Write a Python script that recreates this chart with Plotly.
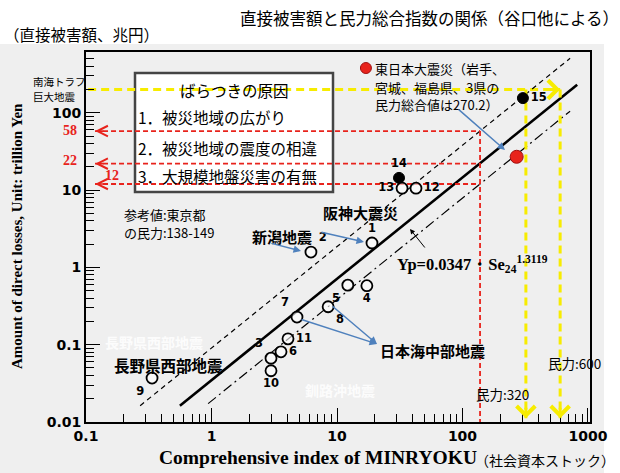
import numpy as np
import plotly.graph_objects as go

# ---------------- data ----------------
event_ids = ["1", "2", "3", "4", "5", "6", "7", "8", "9", "10", "11", "12", "13", "14", "15"]
minryoku = [19.0, 6.2, 2.98, 17.3, 12.2, 3.58, 4.8, 8.5, 0.336, 2.98, 4.07, 42.6, 33.0, 31.2, 303]
losses = [2.07, 1.58, 0.067, 0.58, 0.59, 0.081, 0.228, 0.31, 0.037, 0.046, 0.119, 10.6, 10.6, 14.4, 155]
filled_events = ["14", "15"]

# East Japan (Tohoku) earthquake point
tohoku_minryoku = 270.2
tohoku_loss = 27.0

# regression  Yp = 0.0347 * Se^1.3119  and the two bounding lines
fit_a = 0.0347
fit_b = 1.3119
band_upper = 2.61
band_lower = 0.54
center_x = [0.56, 820]
upper_x = [0.27, 720]
lower_x = [0.94, 720]

# Tokyo reference (red dashed)
tokyo_minryoku = 138
tokyo_levels = [58, 22, 12]
red_x_start = 0.118

# Nankai trough (yellow dashed)
nankai_loss = 200
nankai_minryoku = [320, 600]
yellow_x_start = 0.104
axis_floor = 0.0112

x_tickvals = [0.1, 1, 10, 100, 1000]
x_ticktext = ["0.1", "1", "10", "100", "1000"]
y_tickvals = [0.01, 0.1, 1, 10, 100]
y_ticktext = ["0.01", "0.1", "1", "10", "100"]

# ---------------- styling / layout helpers ----------------
L, R, T, B = 86, 30, 52, 51
W, H = 620, 473
PW, PH = W - L - R, H - T - B


def P(px):
    return (px - L) / PW


def Q(py):
    return (H - B - py) / PH


JP = "Noto Sans CJK JP"
SERIF = "Liberation Serif"
SANS = "DejaVu Sans"
RED = "#e8231c"
YEL = "#f7ec00"
BLUE = "#4f81bd"

label_pos = ["top center", "top right", "top left", "bottom center", "bottom left",
             "middle right", "top left", "bottom right", "bottom left", "bottom center",
             "middle right", "middle right", "middle left", "top center", "middle right"]

fig = go.Figure()

# regression lines
def fit(x, k=1.0):
    return [k * fit_a * v ** fit_b for v in x]

fig.add_trace(go.Scatter(x=upper_x, y=fit(upper_x, band_upper), mode="lines",
                         line=dict(color="black", width=1.2, dash="5px,4px")))
fig.add_trace(go.Scatter(x=center_x, y=fit(center_x), mode="lines",
                         line=dict(color="black", width=2.6)))
fig.add_trace(go.Scatter(x=lower_x, y=fit(lower_x, band_lower), mode="lines",
                         line=dict(color="black", width=1.2, dash="10px,4px,2px,4px")))

# yellow dashed vertical lines
for xv in nankai_minryoku:
    fig.add_trace(go.Scatter(x=[xv, xv], y=[nankai_loss, axis_floor], mode="lines",
                             line=dict(color=YEL, width=3, dash="8px,5px")))

# red dashed lines
for lv in tokyo_levels:
    fig.add_trace(go.Scatter(x=[red_x_start, tokyo_minryoku], y=[lv, lv], mode="lines",
                             line=dict(color=RED, width=1.8, dash="5px,3px")))
fig.add_trace(go.Scatter(x=[tokyo_minryoku, tokyo_minryoku], y=[max(tokyo_levels), 0.01],
                         mode="lines", line=dict(color=RED, width=1.8, dash="5px,3px")))

# circles
open_idx = [i for i, e in enumerate(event_ids) if e not in filled_events]
fill_idx = [i for i, e in enumerate(event_ids) if e in filled_events]
numfont = dict(family=SANS, size=11.5, color="black", weight="bold")
fig.add_trace(go.Scatter(
    x=[minryoku[i] for i in fill_idx], y=[losses[i] for i in fill_idx],
    mode="markers+text", text=[event_ids[i] for i in fill_idx],
    textposition=[label_pos[i] for i in fill_idx], textfont=numfont,
    marker=dict(size=11, color="black", line=dict(color="black", width=1)), cliponaxis=False))
fig.add_trace(go.Scatter(
    x=[minryoku[i] for i in open_idx], y=[losses[i] for i in open_idx],
    mode="markers+text", text=[event_ids[i] for i in open_idx],
    textposition=[label_pos[i] for i in open_idx], textfont=numfont,
    marker=dict(size=11, color="rgba(255,255,255,0.6)", line=dict(color="black", width=1.8)),
    cliponaxis=False))

# Tohoku red point and legend dot
fig.add_trace(go.Scatter(x=[tohoku_minryoku], y=[tohoku_loss], mode="markers",
                         marker=dict(size=13, color=RED, line=dict(color="#a01010", width=1))))
fig.add_trace(go.Scatter(x=[17.0], y=[380], mode="markers", cliponaxis=False,
                         marker=dict(size=11, color=RED, line=dict(color="#a01010", width=1))))

shapes = [
    # scanned-paper background
    dict(type="rect", xref="paper", yref="paper", x0=P(0), x1=P(604), y0=Q(473), y1=Q(44),
         fillcolor="#efefef", line=dict(width=0), layer="below"),
    # yellow horizontal (behind the box)
    dict(type="line", xref="x", yref="y", x0=yellow_x_start, x1=max(nankai_minryoku),
         y0=nankai_loss, y1=nankai_loss, line=dict(color=YEL, width=3, dash="8px,5px"),
         layer="below"),
    # explanation box
    dict(type="rect", xref="paper", yref="paper", x0=P(135), x1=P(333), y0=Q(192), y1=Q(73),
         fillcolor="white", line=dict(color="#454545", width=2.5), layer="below"),
]

ann = []


def txt(text, px, py, size=13, color="black", family=JP, weight="normal",
        xanchor="left", angle=0):
    ann.append(dict(text=text, x=P(px), y=Q(py), xref="paper", yref="paper",
                    xanchor=xanchor, yanchor="middle", showarrow=False, textangle=angle,
                    font=dict(family=family, size=size, color=color, weight=weight)))


def arrow(x0, y0, x1, y1, color=BLUE, width=1.5, head=2, size=1.0):
    ann.append(dict(text="", x=P(x1), y=Q(y1), xref="paper", yref="paper",
                    ax=x0 - x1, ay=y0 - y1, showarrow=True, arrowhead=head,
                    arrowsize=size, arrowwidth=width, arrowcolor=color))


# titles
txt("直接被害額と民力総合指数の関係（谷口他による）", 621, 18, size=16.5, xanchor="right")
txt("（直接被害額、兆円）", 2, 34, size=15.5)
txt("Amount of direct losses, Unit: trillion Yen", 17, 236, size=15, family=SERIF,
    weight="bold", xanchor="center", angle=-90)
txt("Comprehensive index of MINRYOKU", 318, 458, size=19.5, family=SERIF, weight="bold",
    xanchor="center")
txt("（社会資本ストック）", 617, 460, size=14, xanchor="right")

# box text
txt("ばらつきの原因", 234, 90, size=15.5, xanchor="center")
txt("1．被災地域の広がり", 136, 117, size=15.5)
txt("2．被災地域の震度の相違", 136, 148, size=15.5)
txt("3．大規模地盤災害の有無", 136, 176, size=15.5)

# Nankai label
txt("南海トラフ", 31, 81, size=10.5)
txt("巨大地震", 31, 96, size=10.5)

# red numbers
txt("58", 70, 130, size=14, color=RED, family=SERIF, weight="bold", xanchor="center")
txt("22", 70, 160, size=14, color=RED, family=SERIF, weight="bold", xanchor="center")
txt("12", 112, 175, size=14, color=RED, family=SERIF, weight="bold", xanchor="center")

# Tohoku text
txt("東日本大震災（岩手、", 373, 69, size=13)
txt("宮城、福島県、3県の", 373, 87, size=13)
txt("民力総合値は270.2）", 373, 104, size=13)
arrow(457, 108, 505, 150)

# reference text
txt("参考値:東京都", 122, 214, size=13)
txt("の民力:138-149", 122, 232, size=13)

# event names
txt("阪神大震災", 321, 212, size=15, weight="bold")
arrow(320, 232, 364, 242)
txt("新潟地震", 250, 236, size=15, weight="bold")
arrow(270, 243, 301, 251)
txt("日本海中部地震", 378, 350, size=15, weight="bold")
arrow(300, 319, 377, 344)
arrow(331, 305, 377, 344)
txt("長野県西部地震", 112, 365, size=15.5, weight="bold")
txt("長野県西部地震", 103, 342, size=14, color="rgba(255,255,255,0.85)", weight="bold")
txt("釧路沖地震", 303, 390, size=14, color="rgba(255,255,255,0.85)", weight="bold")

# formula
txt("Yp=0.0347・Se<sub>24</sub><sup>1.3119</sup>", 395, 264, size=16.5, family=SERIF,
    weight="bold")
arrow(426, 249, 410, 229, color="black", width=1, head=2)

# minryoku labels
txt("民力:320", 474, 394, size=13.5)
txt("民力:600", 546, 363, size=13.5)

# arrowheads on dashed lines
for lv in tokyo_levels:
    ann.append(dict(text="", x=np.log10(red_x_start), y=np.log10(lv), xref="x", yref="y",
                    ax=10, ay=0, showarrow=True, arrowhead=5, arrowsize=1.3,
                    arrowwidth=1.6, arrowcolor=RED))
for xv in nankai_minryoku:
    ann.append(dict(text="", x=np.log10(xv), y=np.log10(axis_floor), xref="x", yref="y",
                    ax=0, ay=-12, showarrow=True, arrowhead=4, arrowsize=1.2,
                    arrowwidth=3, arrowcolor=YEL))
ann.append(dict(text="", x=np.log10(max(nankai_minryoku)), y=np.log10(nankai_loss),
                xref="x", yref="y", ax=-12, ay=0, showarrow=True, arrowhead=4,
                arrowsize=1.2, arrowwidth=3, arrowcolor=YEL))

x_minor = [k * 10.0 ** d for d in range(-1, 3) for k in range(2, 10)]
y_minor = [k * 10.0 ** d for d in range(-2, 2) for k in range(2, 10)] + [200, 300, 400, 500]

tickfont = dict(family=SANS, size=14, color="black", weight="bold")
fig.update_layout(
    width=W, height=H, margin=dict(l=L, r=R, t=T, b=B),
    paper_bgcolor="white", plot_bgcolor="#efefef", showlegend=False,
    shapes=shapes, annotations=ann,
    xaxis=dict(type="log", range=[-1, np.log10(1000) + 0.016], tickvals=x_tickvals,
               ticktext=x_ticktext, ticks="inside", ticklen=14, tickwidth=1.3,
               tickcolor="black", showgrid=False, zeroline=False, showline=True,
               linecolor="black", linewidth=1.8, mirror=True, tickfont=tickfont,
               minor=dict(tickvals=x_minor, ticks="inside", ticklen=8, tickwidth=1.2,
                          tickcolor="black", showgrid=False)),
    yaxis=dict(type="log", range=[-2, 2.787], tickvals=y_tickvals, ticktext=y_ticktext,
               ticks="inside", ticklen=14, tickwidth=1.3, tickcolor="black",
               showgrid=False, zeroline=False, showline=True, linecolor="black",
               linewidth=1.8, mirror=True, tickfont=tickfont,
               minor=dict(tickvals=y_minor, ticks="inside", ticklen=8, tickwidth=1.2,
                          tickcolor="black", showgrid=False)),
)

fig.write_html("out.html")
